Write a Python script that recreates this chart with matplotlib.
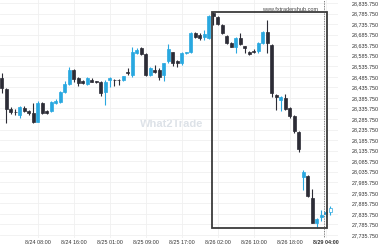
import numpy as np
import matplotlib
matplotlib.use("Agg")
import matplotlib.pyplot as plt
from matplotlib.patches import Rectangle

# hourly candles
opens = [28480, 28428, 28333, 28321, 28305, 28338, 28324, 28314, 28272, 28362,
         28324, 28324, 28362, 28367, 28414, 28452, 28518, 28480, 28464, 28452,
         28471, 28466, 28461, 28414, 28473, 28471, 28471, 28471, 28509, 28494,
         28599, 28622, 28594, 28494, 28518, 28518, 28494, 28561, 28604, 28561,
         28551, 28599, 28604, 28694, 28684, 28675, 28670, 28786, 28769, 28732,
         28679, 28646, 28627, 28670, 28632, 28604, 28608, 28608, 28646, 28698,
         28637, 28400, 28376, 28385, 28338, 28300, 28224, 28011, 28016, 27911,
         27793, 27821, 27836, 27845]
highs = [28504, 28433, 28343, 28333, 28348, 28348, 28329, 28362, 28369, 28367,
         28329, 28371, 28381, 28419, 28466, 28532, 28523, 28485, 28471, 28485,
         28480, 28468, 28466, 28471, 28485, 28476, 28476, 28490, 28528, 28627,
         28622, 28627, 28599, 28532, 28542, 28528, 28551, 28641, 28604, 28566,
         28604, 28604, 28698, 28696, 28694, 28708, 28779, 28793, 28772, 28736,
         28684, 28649, 28675, 28694, 28634, 28606, 28618, 28651, 28701, 28755,
         28641, 28404, 28393, 28404, 28343, 28305, 28229, 28044, 28020, 27954,
         27817, 27855, 27855, 27874]
lows = [28409, 28267, 28310, 28305, 28291, 28319, 28305, 28267, 28270, 28310,
        28310, 28319, 28357, 28362, 28409, 28447, 28461, 28442, 28452, 28447,
        28461, 28457, 28395, 28352, 28438, 28442, 28447, 28466, 28494, 28485,
        28596, 28589, 28490, 28490, 28504, 28471, 28466, 28551, 28537, 28532,
        28542, 28594, 28599, 28670, 28660, 28660, 28665, 28732, 28732, 28689,
        28641, 28625, 28599, 28637, 28599, 28589, 28599, 28599, 28641, 28599,
        28390, 28329, 28324, 28329, 28291, 28220, 28130, 27949, 27916, 27793,
        27769, 27802, 27821, 27831]
closes = [28433, 28333, 28319, 28319, 28343, 28324, 28314, 28272, 28362, 28314,
          28314, 28367, 28371, 28414, 28452, 28518, 28475, 28457, 28457, 28480,
          28463, 28459, 28409, 28461, 28480, 28470, 28470, 28490, 28506, 28603,
          28613, 28594, 28494, 28528, 28509, 28485, 28551, 28618, 28551, 28551,
          28599, 28604, 28694, 28675, 28670, 28689, 28774, 28774, 28736, 28694,
          28646, 28627, 28670, 28641, 28622, 28594, 28604, 28646, 28698, 28646,
          28409, 28390, 28390, 28333, 28300, 28229, 28144, 28035, 27921, 27793,
          27812, 27831, 27845, 27864]

tick_pos = [8, 16, 24, 32, 40, 48, 56, 64, 72]
tick_labels = ["8/24 08:00", "8/24 16:00", "8/25 01:00", "8/25 09:00", "8/25 17:00",
               "8/26 02:00", "8/26 10:00", "8/26 18:00", "8/29 04:00"]
y_ticks = np.arange(27735.75, 28835.76, 50)

box_start, box_end = 47, 72
marker_x = 71.55

up_col = "#29a8e0"
down_col = "#2c2c36"

o = np.array(opens, float)
h = np.array(highs, float)
l = np.array(lows, float)
c = np.array(closes, float)
x = np.arange(len(o))

fig = plt.figure(figsize=(3.8, 2.5), dpi=100)
ax = fig.add_axes([0, 12 / 250, 338 / 380, 238 / 250])

up = c >= o
cols = np.where(up, up_col, down_col)
ax.vlines(x, l, h, colors=cols, linewidth=0.8, zorder=3)
body = np.abs(c - o)
body = np.maximum(body, 1.5)
bottoms = np.minimum(o, c)
faces = list(cols)
faces[-1] = "white"
ax.bar(x, body, bottom=bottoms, width=0.66, color=faces, edgecolor=cols,
       linewidth=0.5, zorder=4)

# highlight box around the drop
top = h[box_start:box_end + 1].max()
bot = l[box_start:box_end + 1].min()
ax.add_patch(Rectangle((box_start - 0.4, bot), box_end - box_start + 0.6, top - bot,
                       fill=False, edgecolor="#3a3a3a", linewidth=1.3, zorder=5))
ax.axvline(marker_x, color="#555555", linewidth=0.6, linestyle=(0, (1, 1)), zorder=6)

ax.set_xlim(-0.44, 74.7)
ax.set_ylim(27721.5, 28850)
ax.set_xticks(tick_pos)
ax.set_xticklabels(tick_labels)
ax.set_yticks(y_ticks)
ax.set_yticklabels(["{:,.3f}".format(v) for v in y_ticks])
ax.yaxis.tick_right()
ax.tick_params(axis="y", length=0, pad=10, labelsize=3.9, labelcolor="#333333")
ax.tick_params(axis="x", length=0, pad=1.5, labelsize=3.9, labelcolor="#333333")
for lab in ax.get_xticklabels():
    lab.set_fontfamily("Liberation Sans")
for lab in ax.get_yticklabels():
    lab.set_fontfamily("Liberation Sans")
ax.get_xticklabels()[-1].set_fontweight("bold")
ax.grid(True, color="#f0f0f0", linewidth=0.6, zorder=0)
for s in ax.spines.values():
    s.set_visible(False)

ax.text(0.775, 0.955, "www.fxtradershub.com", transform=ax.transAxes, fontsize=4,
        family="Liberation Sans", color="#444444", zorder=7)
ax.text(0.415, 0.465, "What2Trade", transform=ax.transAxes, fontsize=8, fontweight="bold",
        family="Liberation Sans", color="#dde2e8", zorder=1)

fig.savefig("out.png", dpi=100)
